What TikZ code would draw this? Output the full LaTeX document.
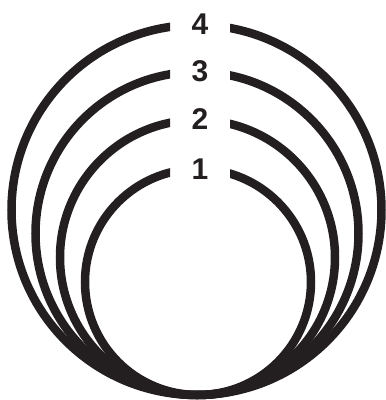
\documentclass[tikz,border=0pt]{standalone}
\usepackage{fontspec}
\setmainfont{Liberation Sans}
\definecolor{ink}{HTML}{231F20}
\begin{document}
\begin{tikzpicture}[x=1pt,y=-1pt,
  ring/.style={draw=ink,line width=8.5pt},
  num/.style={text=ink,font=\bfseries\fontsize{30}{30}\selectfont,inner sep=0pt}]
\useasboundingbox (0,0) rectangle (386,400);
\begin{scope}
  \clip (0,0) -- (170,0) -- (170,186) -- (230,186) -- (230,0) -- (386,0) -- (386,400) -- (0,400) -- cycle;
  \draw[ring] (196.5,210) circle[radius=185];
  \draw[ring] (197,233.5) circle[radius=161.5];
  \draw[ring] (197.5,257.5) circle[radius=137.5];
  \draw[ring] (198,282) circle[radius=113];
\end{scope}
\node[num] (n4) at (200,24) {4};
\node[num] (n3) at (200,71) {3};
\node[num] (n2) at (200,119) {2};
\node[num] (n1) at (200,169) {1};
\end{tikzpicture}
\end{document}
